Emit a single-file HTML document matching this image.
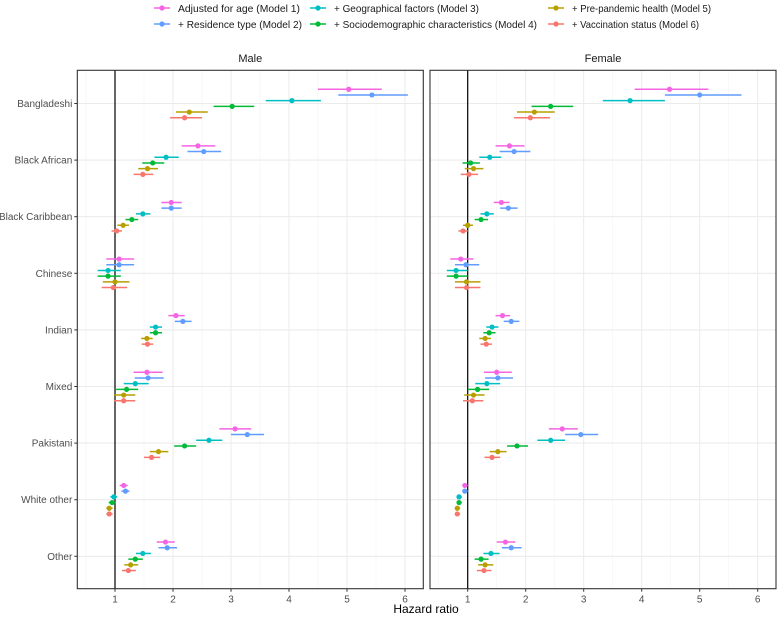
<!DOCTYPE html>
<html><head><meta charset="utf-8"><style>
body{margin:0;background:#fff;}
svg{display:block;font-family:"Liberation Sans",sans-serif;}
</style></head><body>
<svg id="chart" width="777" height="617"></svg>
<script>
const categories=["Bangladeshi","Black African","Black Caribbean","Chinese","Indian","Mixed","Pakistani","White other","Other"];
const models=["Adjusted for age (Model 1)","+ Residence type (Model 2)","+ Geographical factors (Model 3)","+ Sociodemographic characteristics (Model 4)","+ Pre-pandemic health (Model 5)","+ Vaccination status (Model 6)"];
const colors=["#F564E3","#619CFF","#00BFC4","#00BA38","#B79F00","#F8766D"];
const xTicks=[1,2,3,4,5,6];
// [estimate, lower, upper] per category per model
const maleHR=[
[[5.03,4.5,5.6],[5.43,4.85,6.05],[4.05,3.6,4.55],[3.02,2.7,3.4],[2.28,2.05,2.6],[2.2,1.95,2.5]],
[[2.43,2.15,2.73],[2.53,2.25,2.83],[1.88,1.68,2.1],[1.65,1.47,1.85],[1.56,1.4,1.74],[1.48,1.32,1.66]],
[[1.97,1.8,2.15],[1.97,1.8,2.15],[1.48,1.36,1.61],[1.29,1.18,1.4],[1.14,1.04,1.24],[1.03,0.94,1.12]],
[[1.07,0.85,1.33],[1.07,0.85,1.33],[0.88,0.7,1.1],[0.88,0.7,1.1],[1.0,0.79,1.25],[0.97,0.77,1.21]],
[[2.05,1.92,2.2],[2.17,2.03,2.32],[1.7,1.6,1.81],[1.7,1.6,1.81],[1.55,1.45,1.65],[1.56,1.46,1.66]],
[[1.55,1.32,1.82],[1.57,1.34,1.84],[1.35,1.15,1.58],[1.2,1.02,1.4],[1.15,0.98,1.35],[1.15,0.98,1.35]],
[[3.07,2.8,3.35],[3.28,3.0,3.57],[2.62,2.4,2.85],[2.2,2.02,2.4],[1.75,1.6,1.92],[1.63,1.5,1.78]],
[[1.15,1.08,1.22],[1.18,1.11,1.25],[0.98,0.92,1.04],[0.95,0.89,1.01],[0.9,0.85,0.96],[0.9,0.85,0.96]],
[[1.87,1.72,2.03],[1.9,1.75,2.07],[1.48,1.36,1.62],[1.35,1.23,1.48],[1.27,1.16,1.4],[1.23,1.12,1.36]]
];
const femaleHR=[
[[4.48,3.88,5.15],[5.0,4.4,5.72],[3.8,3.33,4.4],[2.43,2.1,2.82],[2.15,1.85,2.5],[2.08,1.8,2.42]],
[[1.72,1.48,1.98],[1.8,1.55,2.08],[1.38,1.2,1.58],[1.05,0.91,1.21],[1.1,0.95,1.27],[1.02,0.88,1.18]],
[[1.58,1.45,1.72],[1.7,1.56,1.86],[1.33,1.22,1.45],[1.23,1.12,1.35],[1.0,0.92,1.09],[0.92,0.84,1.0]],
[[0.88,0.7,1.1],[0.97,0.78,1.2],[0.8,0.64,1.0],[0.8,0.64,1.0],[0.98,0.78,1.22],[0.98,0.78,1.22]],
[[1.6,1.48,1.73],[1.75,1.62,1.89],[1.42,1.32,1.53],[1.37,1.27,1.48],[1.3,1.2,1.4],[1.32,1.22,1.42]],
[[1.5,1.28,1.76],[1.52,1.3,1.78],[1.33,1.13,1.56],[1.17,1.0,1.37],[1.1,0.94,1.29],[1.08,0.92,1.27]],
[[2.63,2.4,2.9],[2.95,2.68,3.25],[2.43,2.2,2.68],[1.85,1.68,2.04],[1.52,1.38,1.67],[1.42,1.29,1.56]],
[[0.95,0.91,1.0],[0.95,0.91,1.0],[0.85,0.81,0.9],[0.85,0.81,0.9],[0.82,0.78,0.87],[0.82,0.78,0.87]],
[[1.65,1.5,1.82],[1.75,1.59,1.93],[1.4,1.27,1.55],[1.23,1.12,1.36],[1.3,1.18,1.44],[1.28,1.16,1.41]]
];
const NS="http://www.w3.org/2000/svg";
const svg=document.getElementById('chart');
function mk(tag,attrs,parent,text){const e=document.createElementNS(NS,tag);for(const k in attrs)e.setAttribute(k,attrs[k]);if(text!==undefined)e.textContent=text;(parent||svg).appendChild(e);return e;}
const plotTop=70.3,plotBottom=588.7,catStep=56.6,dodge=5.7;
function yScale(i){return 103.5+i*catStep;}
const panels=[{name:"Male",left:77.3,right:423.3,one:115,data:maleHR},{name:"Female",left:430,right:776,one:467.7,data:femaleHR}];
const unit=58;
const legPos=[[162,8],[162,24],[318,8],[318,24],[556,8],[556,24]];
const legLen=[122,124,145,203,139,127];
models.forEach((m,k)=>{
  const g=mk('g',{});
  
  
  const [lx,ly]=legPos[k];
  mk('line',{x1:lx-8,x2:lx+8,y1:ly,y2:ly,stroke:colors[k],'stroke-width':1.5},g);
  mk('circle',{cx:lx,cy:ly,r:2.6,fill:colors[k]},g);
  mk('text',{x:lx+16,y:ly+4,'font-size':10.5,fill:'#1a1a1a',textLength:legLen[k],lengthAdjust:'spacingAndGlyphs'},g,m);
});
panels.forEach((p,pi)=>{
  const xs=v=>p.one+(v-1)*unit;
  const g=mk('g',{});
  
  
  mk('text',{x:(p.left+p.right)/2,y:62,'text-anchor':'middle','font-size':11,fill:'#1a1a1a'},g,p.name);
  for(let v=0.5;v<=6.3;v+=1){mk('line',{x1:xs(v),x2:xs(v),y1:plotTop,y2:plotBottom,stroke:'#f2f2f2','stroke-width':0.6},g);}
  xTicks.forEach(v=>{mk('line',{x1:xs(v),x2:xs(v),y1:plotTop,y2:plotBottom,stroke:'#ebebeb','stroke-width':1},g);
    mk('line',{x1:xs(v),x2:xs(v),y1:plotBottom,y2:plotBottom+3,stroke:'#333','stroke-width':1},g);
    const t=mk('text',{x:xs(v),y:plotBottom+14,'text-anchor':'middle','font-size':10,fill:'#4d4d4d'},g,String(v));
    
    
  });
  categories.forEach((c,i)=>{mk('line',{x1:p.left,x2:p.right,y1:yScale(i),y2:yScale(i),stroke:'#ebebeb','stroke-width':1.1},g);});
  mk('line',{x1:xs(1),x2:xs(1),y1:plotTop,y2:plotBottom,stroke:'#000','stroke-width':1.2},g);
  p.data.forEach((cat,i)=>{
    cat.forEach((d,k)=>{
      const y=yScale(i)+(k-2.5)*dodge;
      const m=mk('g',{},g);
      
      
      mk('line',{x1:xs(d[1]),x2:xs(d[2]),y1:y,y2:y,stroke:colors[k],'stroke-width':1.5},m);
      mk('circle',{cx:xs(d[0]),cy:y,r:2.6,fill:colors[k]},m);
    });
  });
  mk('rect',{x:p.left,y:plotTop,width:p.right-p.left,height:plotBottom-plotTop,fill:'none',stroke:'#333','stroke-width':1.1},g);
  if(pi===0){
    categories.forEach((c,i)=>{
      mk('line',{x1:p.left-3,x2:p.left,y1:yScale(i),y2:yScale(i),stroke:'#333','stroke-width':1},g);
      const t=mk('text',{x:p.left-5,y:yScale(i)+3.5,'text-anchor':'end','font-size':10,fill:'#4d4d4d'},g,c);
      
      
    });
  }
});
const xt=mk('text',{x:426,y:613,'text-anchor':'middle','font-size':12,fill:'#000'},svg,'Hazard ratio');


</script>
</body></html>
